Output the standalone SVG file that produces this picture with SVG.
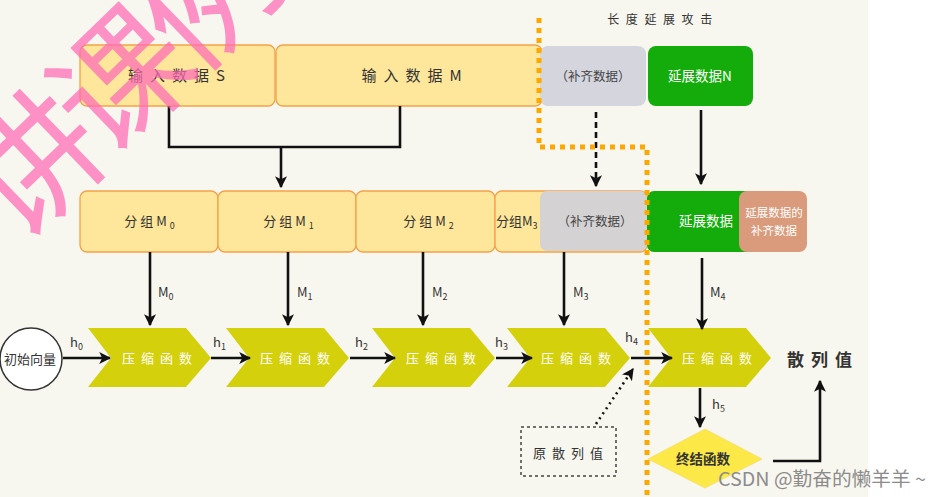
<svg xmlns="http://www.w3.org/2000/svg" width="941" height="497" viewBox="0 0 941 497">
<defs>
<style>
text{font-family:"Noto Sans CJK SC","Noto Sans",sans-serif;fill:#333;}
.box{fill:#fee69b;stroke:#f4a24a;stroke-width:1.3;}
.t15{font-size:15px;letter-spacing:7px;}
.t13{font-size:13px;}
.chev{fill:#d5d00c;}
.ct{font-size:13px;letter-spacing:6px;fill:#fff;}
.wt{fill:#fff;}
.gt{fill:#444;}
.ln{fill:none;stroke:#111;stroke-width:2.6;}
.lbl{font-size:13px;fill:#333;}
.wm{fill:#ff6ab6;}
.csdn{fill:#8c8c8c;}
</style>
<marker id="ah" viewBox="0 0 10 10" refX="9" refY="5" markerWidth="12" markerHeight="12" markerUnits="userSpaceOnUse" orient="auto">
<path d="M0,0 L10,5 L0,10 L2.5,5 z" fill="#111"/>
</marker>
</defs>
<rect x="0" y="0" width="941" height="497" fill="#ffffff"/>
<rect x="0" y="0" width="868" height="497" fill="#f8f7ef"/>

<text x="663" y="24" font-size="12" letter-spacing="6.6" text-anchor="middle">长度延展攻击</text>

<g id="inputS"><rect class="box" x="80" y="45" width="195" height="61" rx="7"/><text class="t15" x="180" y="81" text-anchor="middle">输入数据S</text></g>
<g id="inputM"><rect class="box" x="276" y="45" width="266" height="61" rx="7"/><text class="t15" x="415" y="81" text-anchor="middle">输入数据M</text></g>
<g id="pad1"><rect x="540" y="46" width="106" height="60" rx="8" fill="#d5d5de"/><text class="gt" x="593" y="81" font-size="12.5" text-anchor="middle">（补齐数据）</text></g>
<g id="extN"><rect x="648" y="46" width="105" height="60" rx="8" fill="#13ac0b"/><text class="wt" x="700" y="81" font-size="13.5" text-anchor="middle">延展数据N</text></g>

<g id="m0"><rect class="box" x="80" y="191" width="138" height="61" rx="7"/><text class="t13" x="151" y="226" letter-spacing="3" text-anchor="middle">分组M<tspan font-size="9" dy="3">0</tspan></text></g>
<g id="m1"><rect class="box" x="218" y="191" width="138" height="61" rx="7"/><text class="t13" x="290" y="226" letter-spacing="3" text-anchor="middle">分组M<tspan font-size="9" dy="3">1</tspan></text></g>
<g id="m2"><rect class="box" x="356" y="191" width="139" height="61" rx="7"/><text class="t13" x="430" y="226" letter-spacing="3" text-anchor="middle">分组M<tspan font-size="9" dy="3">2</tspan></text></g>
<g id="m3"><rect class="box" x="495" y="191" width="152" height="61" rx="7"/><text class="t13" x="496" y="226">分组M<tspan font-size="9" dy="3">3</tspan></text></g>
<g id="pad2"><rect x="540" y="191" width="107" height="60" rx="7" fill="#d5d2d4"/><text class="gt" x="595" y="226" font-size="12.5" text-anchor="middle">（补齐数据）</text></g>
<g id="ext"><rect x="647" y="191" width="110" height="61" rx="7" fill="#13ac0b"/><text class="wt" x="706" y="226" font-size="13.5" text-anchor="middle">延展数据</text></g>
<g id="extpad"><rect x="739" y="191" width="68" height="61" rx="8" fill="#d99b7b"/><text class="wt" x="774" y="217" font-size="11.5" text-anchor="middle">延展数据的</text><text class="wt" x="774" y="235" font-size="11.5" text-anchor="middle">补齐数据</text></g>

<g id="iv"><circle cx="31" cy="359" r="31" fill="#fff" stroke="#333" stroke-width="1.5"/><text x="30" y="364" font-size="13" text-anchor="middle">初始向量</text></g>
<g id="c1"><path class="chev" d="M88,328 L186,328 L211,358 L186,387 L88,387 L111,358 Z"/><text class="ct" x="160" y="363" text-anchor="middle">压缩函数</text></g>
<g id="c2"><path class="chev" d="M226,328 L324,328 L349,358 L324,387 L226,387 L249,358 Z"/><text class="ct" x="298" y="363" text-anchor="middle">压缩函数</text></g>
<g id="c3"><path class="chev" d="M372,328 L470,328 L495,358 L470,387 L372,387 L395,358 Z"/><text class="ct" x="444" y="363" text-anchor="middle">压缩函数</text></g>
<g id="c4"><path class="chev" d="M507,328 L605,328 L630,358 L605,387 L507,387 L530,358 Z"/><text class="ct" x="579" y="363" text-anchor="middle">压缩函数</text></g>
<g id="c5"><path class="chev" d="M648,328 L746,328 L771,358 L746,387 L648,387 L671,358 Z"/><text class="ct" x="720" y="363" text-anchor="middle">压缩函数</text></g>
<g id="hash"><text x="823" y="366" font-size="17" font-weight="bold" letter-spacing="7" text-anchor="middle">散列值</text></g>
<g id="orig"><rect x="521" y="427" width="95" height="49" fill="none" stroke="#444" stroke-width="1.5" stroke-dasharray="3 3"/><text x="571" y="458" font-size="13" letter-spacing="6" text-anchor="middle">原散列值</text></g>
<g id="final"><path d="M705,429 L762,459 L705,488 L648,459 Z" fill="#fce847" stroke="#f7e27a" stroke-width="1"/><text x="703" y="464" font-size="13.5" font-weight="bold" text-anchor="middle">终结函数</text></g>

<g id="connectors">
<path class="ln" d="M169,106 V147 H400 V106"/>
<path class="ln" d="M281,147 V187" marker-end="url(#ah)"/>
<path class="ln" d="M596,112 V186" stroke-dasharray="6 4" marker-end="url(#ah)"/>
<path class="ln" d="M701,110 V184" marker-end="url(#ah)"/>
<path class="ln" d="M150,252 V325" marker-end="url(#ah)"/>
<path class="ln" d="M288,252 V325" marker-end="url(#ah)"/>
<path class="ln" d="M423,252 V325" marker-end="url(#ah)"/>
<path class="ln" d="M564,252 V325" marker-end="url(#ah)"/>
<path class="ln" d="M702,258 V329" marker-end="url(#ah)"/>
<path class="ln" d="M63,358 H110" marker-end="url(#ah)"/>
<path class="ln" d="M211,358 H250" marker-end="url(#ah)"/>
<path class="ln" d="M350,358 H395" marker-end="url(#ah)"/>
<path class="ln" d="M496,358 H532" marker-end="url(#ah)"/>
<path class="ln" d="M631,358 H672" marker-end="url(#ah)"/>
<path class="ln" d="M596,424 L633,369" stroke-width="3.5" stroke-dasharray="2 4" marker-end="url(#ah)"/>
<path class="ln" d="M700,388 V427" marker-end="url(#ah)"/>
<path class="ln" d="M773,461 H820 V381" stroke-width="3" marker-end="url(#ah)"/>
<text class="lbl" x="158" y="297">M<tspan font-size="9" dy="3">0</tspan></text>
<text class="lbl" x="297" y="297">M<tspan font-size="9" dy="3">1</tspan></text>
<text class="lbl" x="432" y="297">M<tspan font-size="9" dy="3">2</tspan></text>
<text class="lbl" x="573" y="297">M<tspan font-size="9" dy="3">3</tspan></text>
<text class="lbl" x="710" y="297">M<tspan font-size="9" dy="3">4</tspan></text>
<text class="lbl" x="70" y="347">h<tspan font-size="9" dy="3">0</tspan></text>
<text class="lbl" x="213" y="347">h<tspan font-size="9" dy="3">1</tspan></text>
<text class="lbl" x="355" y="347">h<tspan font-size="9" dy="3">2</tspan></text>
<text class="lbl" x="495" y="347">h<tspan font-size="9" dy="3">3</tspan></text>
<text class="lbl" x="625" y="342">h<tspan font-size="9" dy="3">4</tspan></text>
<text class="lbl" x="712" y="409">h<tspan font-size="9" dy="3">5</tspan></text>
</g>

<path d="M539,18 V147 H647 V497" fill="none" stroke="#fca800" stroke-width="5" stroke-dasharray="5 5"/>

<g transform="translate(19,246) rotate(-44)" opacity="0.72"><text class="wm" x="0" y="0" font-size="134" font-weight="400" letter-spacing="-12">讲课例</text></g>
<text class="csdn" x="718" y="486" font-size="19" textLength="208" lengthAdjust="spacingAndGlyphs">CSDN @勤奋的懒羊羊 ~</text>
</svg>
